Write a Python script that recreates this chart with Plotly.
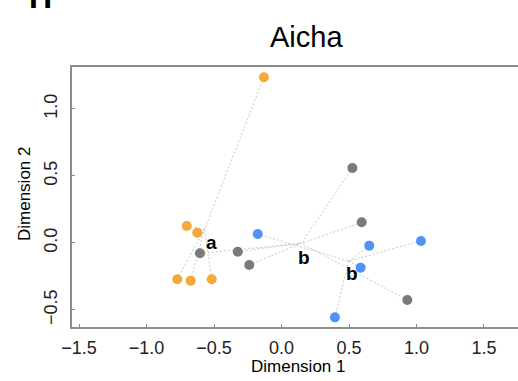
import numpy as np
import plotly.graph_objects as go

# --- data ---
orange_x = [-0.130, -0.702, -0.624, -0.772, -0.673, -0.517]
orange_y = [1.237, 0.127, 0.077, -0.271, -0.281, -0.271]

gray_x = [-0.604, -0.324, -0.239, 0.525, 0.594, 0.932]
gray_y = [-0.077, -0.065, -0.164, 0.560, 0.154, -0.425]

blue_x = [-0.176, 0.650, 1.033, 0.586, 0.396]
blue_y = [0.067, -0.020, 0.015, -0.184, -0.555]

group_labels = ["a", "b", "b"]
x_ticks = [-1.5, -1.0, -0.5, 0.0, 0.5, 1.0, 1.5]
y_ticks = [-0.5, 0.0, 0.5, 1.0]

groups = [
    (orange_x, orange_y, "#F5A93B"),
    (gray_x, gray_y, "#7A7A7A"),
    (blue_x, blue_y, "#4F93F8"),
]
label_shifts = [(7, -13), (3, -14), (3, -12)]

FONT = "Liberation Sans, Arial, sans-serif"
fig = go.Figure()

# dotted lines from each point to its group centroid
for gx, gy, col in groups:
    cx, cy = float(np.mean(gx)), float(np.mean(gy))
    lx, ly = [], []
    for x, y in zip(gx, gy):
        lx += [x, cx, None]
        ly += [y, cy, None]
    fig.add_trace(go.Scatter(x=lx, y=ly, mode="lines",
                             line=dict(color="#C8C8C8", width=1, dash="2px,2px"),
                             hoverinfo="skip", showlegend=False))

for gx, gy, col in groups:
    fig.add_trace(go.Scatter(x=gx, y=gy, mode="markers",
                             marker=dict(color=col, size=10, line=dict(width=0)),
                             showlegend=False))

for (gx, gy, col), lab, (sx, sy) in zip(groups, group_labels, label_shifts):
    fig.add_annotation(x=float(np.mean(gx)), y=float(np.mean(gy)), text="<b>%s</b>" % lab,
                       showarrow=False, xshift=sx, yshift=sy,
                       font=dict(family=FONT, size=19, color="black"))

L, R, T, B = 72, 0, 67, 54
W, H = 518, 381
ph = H - T - B
pw = W - L - R

def py(pix):
    return 1 + (T - pix) / ph

def px(pix):
    return (pix - L) / pw

fig.add_annotation(xref="paper", yref="paper", x=px(306), y=py(37), text="Aicha",
                   showarrow=False, yanchor="middle", xanchor="center",
                   font=dict(family=FONT, size=29, color="black"))
fig.add_annotation(xref="paper", yref="paper", x=px(40), y=py(17), text="<b>H</b>",
                   showarrow=False, yanchor="bottom", xanchor="center",
                   font=dict(family=FONT, size=32, color="black"))
fig.add_annotation(xref="paper", yref="paper", x=px(298), y=py(366), text="Dimension 1",
                   showarrow=False, yanchor="middle", xanchor="center",
                   font=dict(family=FONT, size=17, color="black"))
fig.add_annotation(xref="paper", yref="paper", x=px(24), y=py(194), text="Dimension 2",
                   showarrow=False, yanchor="middle", xanchor="center", textangle=-90,
                   font=dict(family=FONT, size=17, color="black"))

axis_common = dict(showgrid=False, zeroline=False, showline=True, linecolor="#8C8C8C",
                   linewidth=2, ticks="inside", ticklen=3, tickwidth=1, tickcolor="#8C8C8C",
                   tickfont=dict(family=FONT, size=18, color="#222222"))
fig.update_xaxes(range=[-1.552, 1.752], tickvals=x_ticks,
                 ticktext=[("%.1f" % v).replace("-", "\u2212") for v in x_ticks],
                 mirror=True, ticklabelstandoff=3, **axis_common)
fig.update_yaxes(range=[-0.627, 1.313], tickvals=y_ticks,
                 ticktext=[("%.1f" % v).replace("-", "\u2212") for v in y_ticks],
                 tickangle=-90, mirror=False, ticklabelstandoff=6, **axis_common)

fig.update_layout(width=W, height=H, margin=dict(l=L, r=R, t=T, b=B),
                  plot_bgcolor="white", paper_bgcolor="white", showlegend=False,
                  font=dict(family=FONT))
fig.write_html("out.html", config={"displayModeBar": False},
               post_script="document.body.style.margin='0';document.body.style.overflow='hidden';")
